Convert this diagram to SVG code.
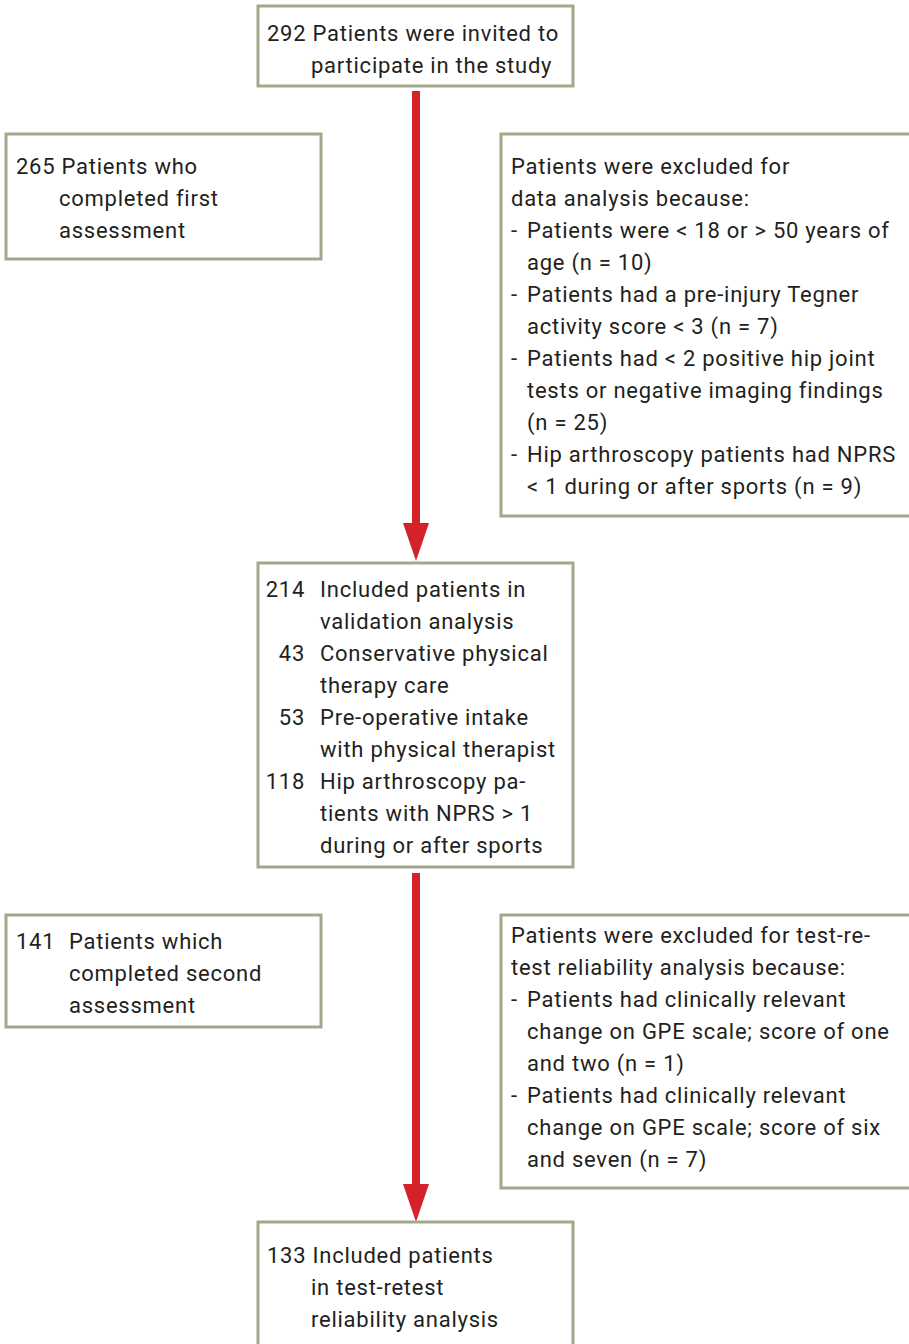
<svg xmlns="http://www.w3.org/2000/svg" width="909" height="1344" viewBox="0 0 909 1344">
  <style>
    .box { fill: #ffffff; stroke: #a3a88b; stroke-width: 3; }
    .t { font-family: Roboto, "Liberation Sans", sans-serif; font-size: 22px; letter-spacing: 0.75px; fill: #231f20; }
    .r { text-anchor: end; }
    .arrow { fill: #d3222a; }
  </style>
  <rect width="909" height="1344" fill="#ffffff"/>

  <g id="connectors">
    <path class="arrow" d="M412,91 H420 V523 H429 L416,561 L403,523 H412 Z"/>
    <path class="arrow" d="M412,873 H420 V1184 H429 L416,1222 L403,1184 H412 Z"/>
  </g>

  <g id="invited">
    <rect class="box" x="258" y="6" width="315" height="80"/>
    <text class="t" x="267" y="41">292 Patients were invited to</text>
    <text class="t" x="311" y="73">participate in the study</text>
  </g>

  <g id="first-assessment">
    <rect class="box" x="6" y="134" width="315" height="125"/>
    <text class="t" x="16" y="174">265 Patients who</text>
    <text class="t" x="59" y="206">completed first</text>
    <text class="t" x="59" y="238">assessment</text>
  </g>

  <g id="excluded-data">
    <rect class="box" x="501" y="134" width="420" height="382"/>
    <text class="t" x="511" y="174">Patients were excluded for</text>
    <text class="t" x="511" y="206">data analysis because:</text>
    <text class="t" x="511" y="238">-</text>
    <text class="t" x="527" y="238">Patients were &lt; 18 or &gt; 50 years of</text>
    <text class="t" x="527" y="270">age (n = 10)</text>
    <text class="t" x="511" y="302">-</text>
    <text class="t" x="527" y="302">Patients had a pre-injury Tegner</text>
    <text class="t" x="527" y="334">activity score &lt; 3 (n = 7)</text>
    <text class="t" x="511" y="366">-</text>
    <text class="t" x="527" y="366">Patients had &lt; 2 positive hip joint</text>
    <text class="t" x="527" y="398">tests or negative imaging findings</text>
    <text class="t" x="527" y="430">(n = 25)</text>
    <text class="t" x="511" y="462">-</text>
    <text class="t" x="527" y="462">Hip arthroscopy patients had NPRS</text>
    <text class="t" x="527" y="494">&lt; 1 during or after sports (n = 9)</text>
  </g>

  <g id="validation">
    <rect class="box" x="258" y="563" width="315" height="304"/>
    <text class="t r" x="305" y="597">214</text>
    <text class="t" x="320" y="597">Included patients in</text>
    <text class="t" x="320" y="629">validation analysis</text>
    <text class="t r" x="305" y="661">43</text>
    <text class="t" x="320" y="661">Conservative physical</text>
    <text class="t" x="320" y="693">therapy care</text>
    <text class="t r" x="305" y="725">53</text>
    <text class="t" x="320" y="725">Pre-operative intake</text>
    <text class="t" x="320" y="757">with physical therapist</text>
    <text class="t r" x="305" y="789">118</text>
    <text class="t" x="320" y="789">Hip arthroscopy pa-</text>
    <text class="t" x="320" y="821">tients with NPRS &gt; 1</text>
    <text class="t" x="320" y="853">during or after sports</text>
  </g>

  <g id="second-assessment">
    <rect class="box" x="6" y="915" width="315" height="112"/>
    <text class="t" x="16" y="949">141</text>
    <text class="t" x="69" y="949">Patients which</text>
    <text class="t" x="69" y="981">completed second</text>
    <text class="t" x="69" y="1013">assessment</text>
  </g>

  <g id="excluded-retest">
    <rect class="box" x="501" y="915" width="420" height="273"/>
    <text class="t" x="511" y="943">Patients were excluded for test-re-</text>
    <text class="t" x="511" y="975">test reliability analysis because:</text>
    <text class="t" x="511" y="1007">-</text>
    <text class="t" x="527" y="1007">Patients had clinically relevant</text>
    <text class="t" x="527" y="1039">change on GPE scale; score of one</text>
    <text class="t" x="527" y="1071">and two (n = 1)</text>
    <text class="t" x="511" y="1103">-</text>
    <text class="t" x="527" y="1103">Patients had clinically relevant</text>
    <text class="t" x="527" y="1135">change on GPE scale; score of six</text>
    <text class="t" x="527" y="1167">and seven (n = 7)</text>
  </g>

  <g id="test-retest">
    <rect class="box" x="258" y="1222" width="315" height="140"/>
    <text class="t" x="267" y="1263">133 Included patients</text>
    <text class="t" x="311" y="1295">in test-retest</text>
    <text class="t" x="311" y="1327">reliability analysis</text>
  </g>
</svg>
